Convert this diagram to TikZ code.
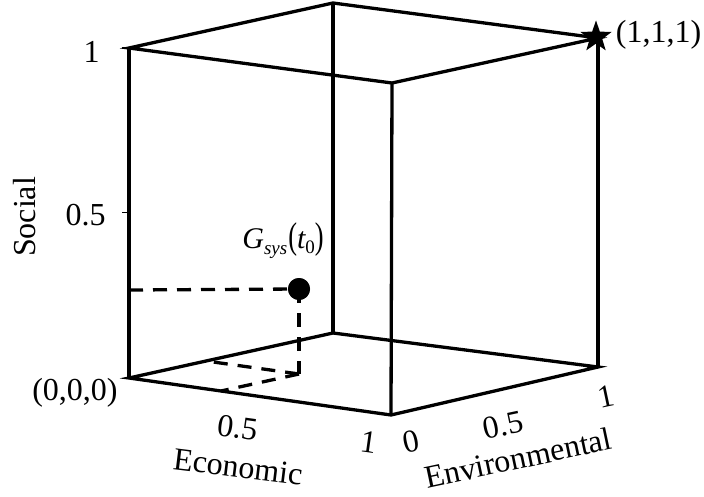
\documentclass[tikz,border=0pt]{standalone}
\usepackage{fontspec}
\usepackage{graphicx}
\setmainfont{Liberation Serif}
\usetikzlibrary{shapes.geometric}
\tikzset{
  edge/.style={line width=3.3pt},
  dashln/.style={line width=3.3pt, dash pattern=on 14pt off 10pt},
  tickmark/.style={line width=1pt},
  lbl/.style={inner sep=0pt, font=\fontsize{32}{38}\selectfont},
}
\begin{document}
\begin{tikzpicture}[x=1pt,y=-1pt]
\useasboundingbox (0,0) rectangle (704,497);
% cube vertices
\coordinate (O) at (129,378);
\coordinate (A) at (391,415);
\coordinate (B) at (333,333);
\coordinate (C) at (598,367);
\coordinate (Ot) at (129,48);
\coordinate (At) at (392,83);
\coordinate (Bt) at (333,3);
\coordinate (Ct) at (598,38);
% edges
\draw[edge] (O) -- (A) -- (C) -- (B) -- cycle;
\draw[edge] (Ot) -- (At) -- (Ct) -- (Bt) -- cycle;
\draw[edge] (O) -- (Ot);
\draw[edge] (A) -- (At);
\draw[edge] (B) -- (Bt);
\draw[edge] (C) -- (Ct);
% ticks on social axis
\coordinate (s1) at (122,48);
\coordinate (s05) at (122,213);
\coordinate (s05r) at (129,213);
\coordinate (s0) at (122,378);
\draw[tickmark] (s1) -- (Ot);
\draw[tickmark] (s05) -- (s05r);
\draw[tickmark] (s0) -- (O);
% point
\node[circle, fill=black, inner sep=0pt, minimum size=22pt] (G) at (299,289) {};
\coordinate (Gl) at (129,290);
\coordinate (F) at (299,374);
\coordinate (Fn) at (206,361);
\coordinate (Fe) at (221,391);
\draw[dashln] (Gl) -- (G.center);
\draw[dashln] (G.center) -- (F);
\draw[dashln] (F) -- (Fn);
\draw[dashln] (F) -- (Fe);
\node[circle, fill=black, inner sep=0pt, minimum size=22pt] at (G) {};
% star
\node[star, star points=5, star point ratio=2.5, fill=black, inner sep=0pt, minimum size=33pt] (S) at (596,37) {};
% labels
\node[lbl] (l1) at (91.5,52) {1};
\node[lbl] (l05) at (85.5,215.5) {0.5};
\node[lbl, anchor=base] (l000) at (75,400) {(0,0,0)};
\node[lbl, rotate=90] (soc) at (25,217) {Social};
\node[lbl, anchor=base] (l111) at (658.5,43) {(1,1,1)};
\node[lbl, rotate=-8] (e05) at (238,428) {0.5};
\node[lbl, rotate=-8] (e1) at (369,442) {1};
\node[lbl, rotate=-7] (eco) at (238,467) {Economic};
\node[lbl, rotate=12] (n0) at (411,442) {0};
\node[lbl, rotate=12] (n05) at (503,425) {0.5};
\node[lbl, rotate=12] (n1) at (606,397) {1};
\node[lbl, rotate=12] (env) at (518,458) {Environmental};
\node[inner sep=0pt, anchor=base] (Glbl) at (283,248)
  {\fontsize{30}{30}\selectfont\itshape G\raisebox{-6pt}{\fontsize{19}{19}\selectfont sys}\kern1pt\upshape\scalebox{0.85}[1.2]{\fontsize{31}{31}\selectfont (}\itshape t\raisebox{-5pt}{\fontsize{19}{19}\selectfont\upshape 0}\upshape\scalebox{0.85}[1.2]{\fontsize{31}{31}\selectfont )}};
\end{tikzpicture}
\end{document}
